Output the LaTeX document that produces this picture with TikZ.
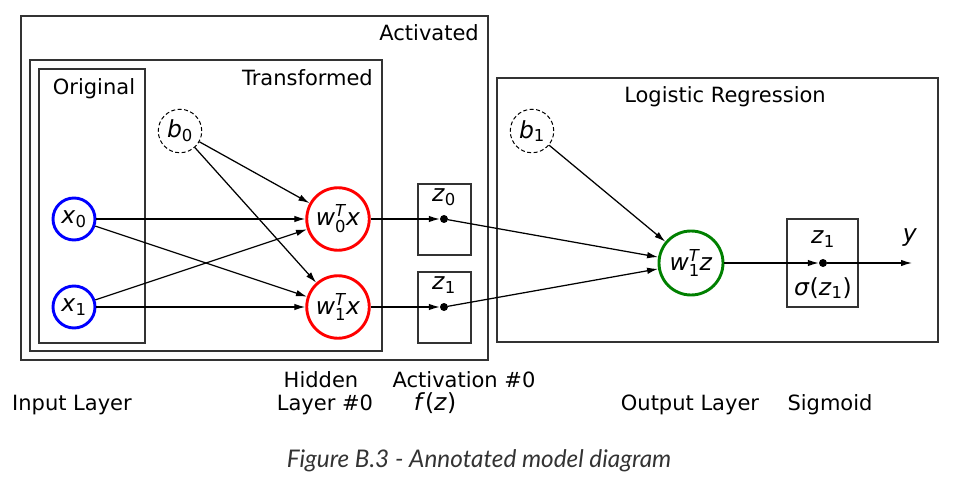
\documentclass[tikz,border=0pt]{standalone}
\usepackage{fontspec}
\usepackage{amsmath}
\setmainfont{DejaVu Sans}
\newfontfamily\capfont{Lato}
\usetikzlibrary{arrows.meta}
\definecolor{boxgray}{HTML}{333333}
\definecolor{capgray}{HTML}{333333}
\definecolor{mplgreen}{HTML}{008000}
\newcommand\vv[1]{\textit{#1}}
\newcommand\sbs[1]{$_{\text{\upshape #1}}$}
\newcommand\sbsp[2]{$_{\text{\upshape #1}}^{\text{\itshape #2}}$}
\begin{document}
\begin{tikzpicture}[x=1pt,y=-1pt,
  every node/.style={font=\fontsize{21}{25}\selectfont},
  mth/.style={font=\fontsize{23.5}{28}\selectfont},
  frame/.style={draw=boxgray,line width=1.3pt},
  neuron/.style={circle,draw,line width=2.9pt,minimum size=62.5pt,inner sep=0pt,mth},
  inp/.style={circle,draw=blue,line width=2.9pt,minimum size=42pt,inner sep=0pt,mth},
  bias/.style={circle,draw,dash pattern=on 4pt off 2.5pt,line width=1pt,minimum size=43.5pt,inner sep=0pt,mth},
  dot/.style={circle,fill,inner sep=0pt,minimum size=8pt},
  conn/.style={-{Latex[length=11pt,width=6.5pt]},line width=1.25pt},
  lbl/.style={inner sep=0pt}]
\useasboundingbox (0,0) rectangle (955,486);
% frames
\draw[frame] (21,16) rectangle (488,360);
\draw[frame] (30,60) rectangle (382,351);
\draw[frame] (39,69) rectangle (145,343);
\draw[frame] (418,184) rectangle (471,255);
\draw[frame] (418,272) rectangle (471,343);
\draw[frame] (497,78) rectangle (938,342);
\draw[frame] (787,219) rectangle (858,307);
% frame labels
\node[lbl,anchor=base east] (tact) at (479,41) {Activated};
\node[lbl,anchor=base east] (ttra) at (373,86) {Transformed};
\node[lbl,anchor=base] (tori) at (94,95) {Original};
\node[lbl,anchor=base] (tlr) at (725,103) {Logistic Regression};
% nodes
\node[bias] (b0) at (180,131) {\vv{b}\sbs{0}};
\node[inp] (x0) at (74,219) {\vv{x}\sbs{0}};
\node[inp] (x1) at (74,307) {\vv{x}\sbs{1}};
\node[neuron,draw=red] (w0) at (338,219) {\vv{w}\sbsp{0}{T}\vv{x}};
\node[neuron,draw=red] (w1) at (338,307) {\vv{w}\sbsp{1}{T}\vv{x}};
\node[dot] (d0) at (444,219) {};
\node[dot] (d1) at (444,307) {};
\node[lbl,mth] (lz0) at (444,197) {\vv{z}\sbs{0}};
\node[lbl,mth] (lz1) at (444,285) {\vv{z}\sbs{1}};
\node[bias] (b1) at (532,131) {\vv{b}\sbs{1}};
\node[neuron,draw=mplgreen,minimum size=64pt] (wz) at (691,263) {\vv{w}\sbsp{1}{T}\vv{z}};
\node[dot] (d2) at (823,263) {};
\node[lbl,mth] (lz2) at (823,239) {\vv{z}\sbs{1}};
\node[lbl,mth] (lsig) at (823,288) {\vv{σ}(\vv{z}\sbs{1})};
\node[lbl,mth] (ly) at (910,238) {\vv{y}};
\coordinate (yend) at (912,263);
% connectors
\draw[conn] (b0) -- (w0);
\draw[conn] (b0) -- (w1);
\draw[conn] (x0) -- (w0);
\draw[conn] (x0) -- (w1);
\draw[conn] (x1) -- (w0);
\draw[conn] (x1) -- (w1);
\draw[conn] (w0) -- (d0);
\draw[conn] (w1) -- (d1);
\draw[conn] (d0) -- (wz);
\draw[conn] (d1) -- (wz);
\draw[conn] (b1) -- (wz);
\draw[conn] (wz) -- (d2);
\draw[conn] (d2) -- (yend);
% bottom labels
\node[lbl,anchor=base] (linp) at (72,410) {Input Layer};
\node[lbl,anchor=base] (lhid1) at (321,387) {Hidden};
\node[lbl,anchor=base] (lhid2) at (325,410) {Layer \#0};
\node[lbl,anchor=base] (lact1) at (464,387) {Activation \#0};
\node[lbl,anchor=base,mth] (lact2) at (435,410) {\vv{f}(\vv{z})};
\node[lbl,anchor=base] (lout) at (690,410) {Output Layer};
\node[lbl,anchor=base] (lsgm) at (830,410) {Sigmoid};
\node[lbl,anchor=base,text=capgray,font=\capfont\itshape\fontsize{24.3}{28}\selectfont] (cap) at (479,467) {Figure B.3 - Annotated model diagram};
\end{tikzpicture}
\end{document}
